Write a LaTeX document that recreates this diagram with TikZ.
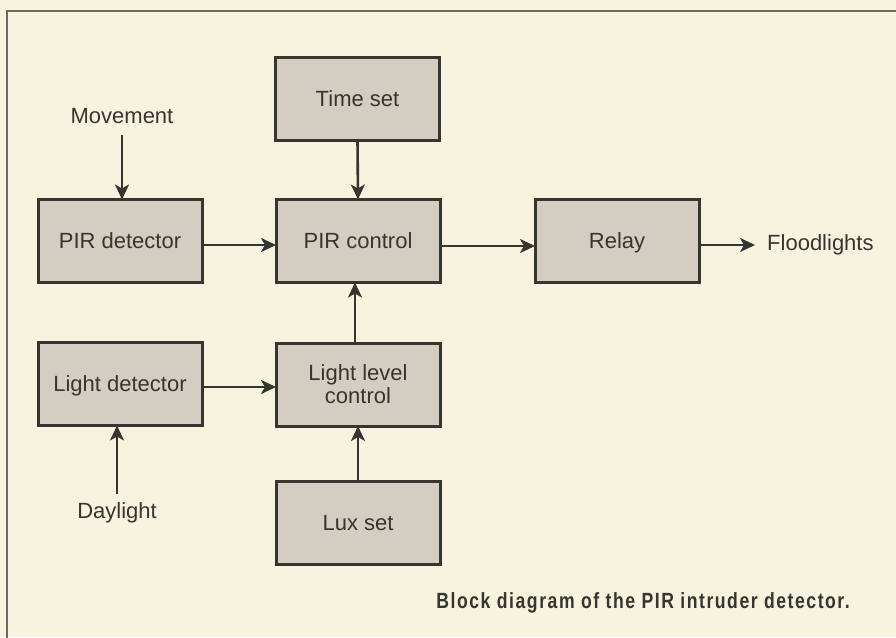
\documentclass[tikz,border=0pt]{standalone}
\usepackage{fontspec}
\setmainfont{Liberation Sans}
\newfontfamily\capfont[FakeStretch=0.8,LetterSpace=7]{Liberation Sans Bold}
\usetikzlibrary{arrows.meta}
\definecolor{bgcol}{HTML}{F8F3DF}
\definecolor{boxfill}{HTML}{D3CEC1}
\definecolor{ink}{HTML}{34362F}
\definecolor{framecol}{HTML}{6B6A60}
\tikzset{
  blk/.style={draw=ink, line width=3pt, fill=boxfill, minimum width=164pt, minimum height=83pt,
    inner sep=0pt, outer sep=0pt, align=center, text=ink, font=\fontsize{22}{23}\selectfont},
  oneline/.style={text height=15.5pt, text depth=0pt},
  lbl/.style={text=ink, font=\fontsize{22}{24}\selectfont, inner sep=0pt},
  arr/.style={draw=ink, line width=2.6pt, -{Stealth[length=15pt,width=14pt,inset=4pt]}}
}
\begin{document}
\begin{tikzpicture}[x=1pt,y=-1pt]
\fill[bgcol] (0,0) rectangle (896,637);
\useasboundingbox (0,0) rectangle (896,637);
\draw[framecol, line width=2pt] (7,640) -- (7,11) -- (900,11);

\node[blk, oneline] (timeset) at (357.5,99) {Time set};
\node[blk, oneline] (pirdet) at (120,241) {PIR detector};
\node[blk, oneline] (pirctl) at (358,241) {PIR control};
\node[blk, oneline] (relay) at (617,241) {Relay};
\node[blk, oneline] (lightdet) at (120,384) {Light detector};
\node[blk] (lightlvl) at (358,384.5) {Light level\\control};
\node[blk, oneline] (luxset) at (358,523) {Lux set};

\node[lbl, oneline] (movement) at (122,116) {Movement};
\node[lbl, oneline] (daylight) at (117,511) {Daylight};
\node[lbl, oneline, anchor=west] (flood) at (767,243) {Floodlights};

\node[anchor=east, text=ink, inner sep=0pt, font=\capfont\fontsize{22}{24}\selectfont] (caption) at (850,603) {Block diagram of the PIR intruder detector.};

\draw[arr] (movement.south) ++(0,11) -- (movement.south |- pirdet.north);
\draw[arr] (daylight.north) ++(0,-9) -- (daylight.north |- lightdet.south);
\draw[arr] (pirdet.east |- 0,245) -- (pirctl.west |- 0,245);
\draw[arr] (timeset.south) -- (pirctl.north);
\draw[arr] (pirctl.east |- 0,246) -- (relay.west |- 0,246);
\draw[arr] (relay.east |- 0,245) -- ([xshift=-12pt]flood.west |- 0,245);
\draw[arr] (lightdet.east |- 0,387) -- (lightlvl.west |- 0,387);
\draw[arr] ([xshift=-3pt]lightlvl.north) -- ([xshift=-3pt]pirctl.south);
\draw[arr] (luxset.north) -- (lightlvl.south);
\end{tikzpicture}
\end{document}
